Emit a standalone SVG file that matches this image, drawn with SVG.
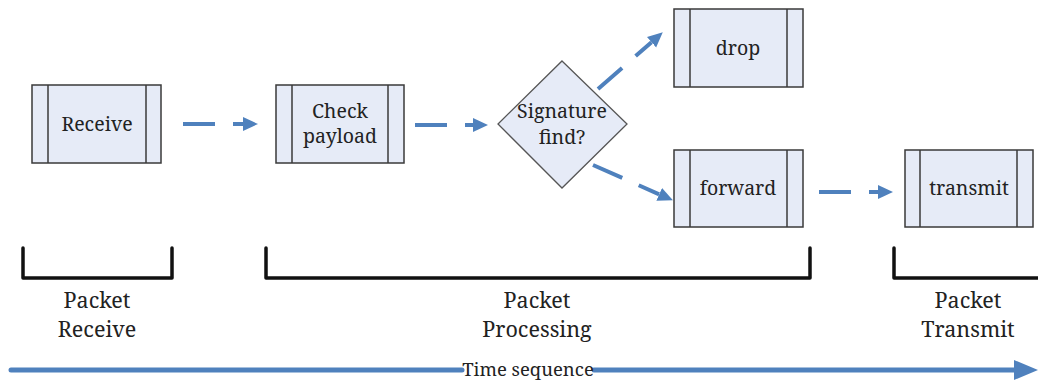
<svg xmlns="http://www.w3.org/2000/svg" width="1038" height="383" viewBox="0 0 1038 383">
  <style>
    .box { fill: #e6ebf7; stroke: #3a3a3a; stroke-width: 1.5; }
    .bar { stroke: #3a3a3a; stroke-width: 1.5; }
    .dia { fill: #e6ebf7; stroke: #555555; stroke-width: 1.3; }
    .t { font-family: 'Noto Serif', 'DejaVu Serif', serif; font-size: 19.5px; fill: #222222; text-anchor: middle; }
    .lbl { font-family: 'Noto Serif', 'DejaVu Serif', serif; font-size: 21.5px; fill: #222222; text-anchor: middle; }
    .time { font-family: 'Noto Serif', 'DejaVu Serif', serif; font-size: 18.5px; fill: #222222; text-anchor: middle; }
    .flow { fill: none; stroke: #4f81bd; stroke-width: 4; stroke-dasharray: 32 18; marker-end: url(#head); }
    .brk { fill: none; stroke: #111111; stroke-width: 3.5; stroke-linejoin: round; stroke-linecap: round; }
    .axis { stroke: #4f81bd; stroke-width: 5; stroke-linecap: round; }
  </style>
  <defs>
    <marker id="head" markerUnits="userSpaceOnUse" markerWidth="16" markerHeight="16" refX="0" refY="8" orient="auto">
      <path d="M0,1 L15,8 L0,15 Z" fill="#4f81bd"/>
    </marker>
  </defs>

  <rect width="1038" height="383" fill="#ffffff"/>

  <!-- process boxes -->
  <g id="receive">
    <rect class="box" x="32" y="85" width="129" height="78"/>
    <line class="bar" x1="48" y1="85" x2="48" y2="163"/>
    <line class="bar" x1="146" y1="85" x2="146" y2="163"/>
    <text class="t" x="97" y="131">Receive</text>
  </g>
  <g id="check-payload">
    <rect class="box" x="276" y="85" width="128" height="78"/>
    <line class="bar" x1="292" y1="85" x2="292" y2="163"/>
    <line class="bar" x1="388" y1="85" x2="388" y2="163"/>
    <text class="t" x="340" y="118">Check</text>
    <text class="t" x="340" y="143">payload</text>
  </g>
  <g id="signature-find">
    <polygon class="dia" points="562,61 627,124 562,188 498,124"/>
    <text class="t" x="562" y="118">Signature</text>
    <text class="t" x="562" y="144">find?</text>
  </g>
  <g id="drop">
    <rect class="box" x="674" y="9" width="129" height="78"/>
    <line class="bar" x1="690" y1="9" x2="690" y2="87"/>
    <line class="bar" x1="787" y1="9" x2="787" y2="87"/>
    <text class="t" x="738" y="55">drop</text>
  </g>
  <g id="forward">
    <rect class="box" x="674" y="150" width="129" height="77"/>
    <line class="bar" x1="690" y1="150" x2="690" y2="227"/>
    <line class="bar" x1="787" y1="150" x2="787" y2="227"/>
    <text class="t" x="738" y="195">forward</text>
  </g>
  <g id="transmit">
    <rect class="box" x="905" y="150" width="128" height="77"/>
    <line class="bar" x1="920" y1="150" x2="920" y2="227"/>
    <line class="bar" x1="1017" y1="150" x2="1017" y2="227"/>
    <text class="t" x="969" y="195">transmit</text>
  </g>

  <!-- dashed flow arrows -->
  <g id="connectors">
    <line class="flow" x1="183" y1="124" x2="243" y2="124"/>
    <line class="flow" x1="415" y1="125" x2="473" y2="125"/>
    <line class="flow" x1="598" y1="89" x2="651.5" y2="42.2"/>
    <line class="flow" x1="593" y1="165" x2="659.2" y2="194.3"/>
    <line class="flow" x1="819" y1="192" x2="878" y2="192"/>
  </g>

  <!-- phase brackets -->
  <g id="phase-receive">
    <path class="brk" d="M23,248 V278 H172 V248"/>
    <text class="lbl" x="97" y="308">Packet</text>
    <text class="lbl" x="97" y="337">Receive</text>
  </g>
  <g id="phase-processing">
    <path class="brk" d="M266,248 V278 H810 V248"/>
    <text class="lbl" x="537" y="308">Packet</text>
    <text class="lbl" x="537" y="337">Processing</text>
  </g>
  <g id="phase-transmit">
    <path class="brk" d="M894,248 V278 H1042"/>
    <text class="lbl" x="968" y="308">Packet</text>
    <text class="lbl" x="968" y="337">Transmit</text>
  </g>

  <!-- time axis -->
  <g id="time-axis">
    <line class="axis" x1="11" y1="370" x2="462" y2="370"/>
    <line class="axis" x1="594" y1="370" x2="1016" y2="370"/>
    <path d="M1014,360 L1038,370 L1014,380 Z" fill="#4f81bd"/>
    <text class="time" x="528" y="376">Time sequence</text>
  </g>
</svg>
